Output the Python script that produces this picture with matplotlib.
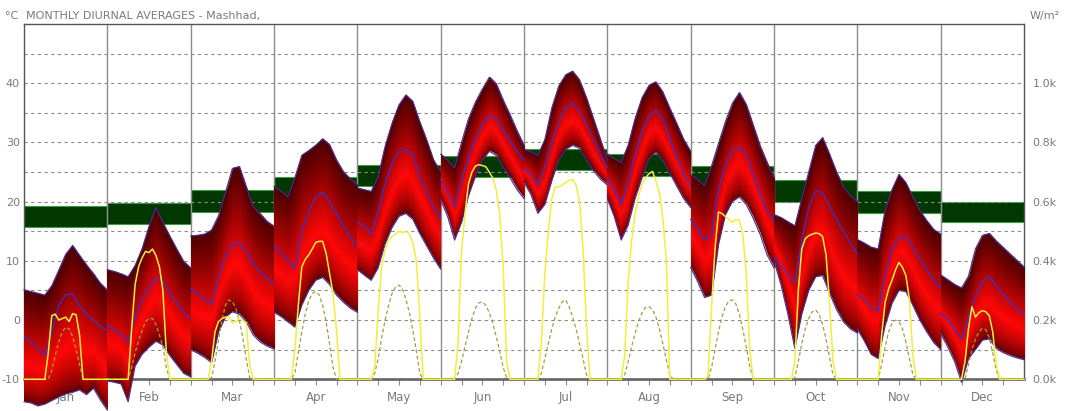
import matplotlib
matplotlib.use("Agg")
import matplotlib.pyplot as plt
import numpy as np

# ---- data ----

MONTHS = ["Jan", "Feb", "Mar", "Apr", "May", "Jun",
          "Jul", "Aug", "Sep", "Oct", "Nov", "Dec"]

# temperatures (degC) every two hours, 0..24
HOURS = [0, 2, 4, 6, 8, 10, 12, 14, 16, 18, 20, 22, 24]

T_MAX = [
    [5.1, 4.8, 4.5, 4.2, 5.8, 8.4, 11.1, 12.6, 10.9, 9.3, 7.8, 6.2, 5.0],
    [8.5, 8.2, 7.8, 7.3, 9.2, 12.0, 15.8, 19.0, 16.5, 14.2, 12.0, 9.9, 8.8],
    [14.2, 14.3, 14.5, 15.2, 17.6, 21.5, 25.6, 25.9, 22.4, 19.2, 17.9, 16.6, 15.8],
    [22.6, 21.8, 20.8, 24.0, 27.8, 28.6, 29.5, 30.6, 29.6, 27.0, 25.0, 23.8, 22.8],
    [22.3, 22.0, 21.7, 24.2, 29.3, 33.2, 36.3, 38.0, 36.9, 33.5, 30.4, 27.0, 25.0],
    [28.0, 27.0, 25.7, 30.0, 34.0, 36.8, 39.0, 41.0, 39.8, 37.0, 34.5, 31.8, 29.4],
    [28.8, 28.4, 27.8, 30.5, 35.8, 39.5, 41.4, 42.0, 40.5, 37.5, 34.0, 30.5, 27.0],
    [28.0, 27.3, 26.6, 29.5, 34.0, 37.5, 39.6, 40.2, 38.5, 35.8, 33.2, 30.5, 28.5],
    [24.5, 23.8, 22.7, 26.0, 29.8, 33.5, 36.6, 38.4, 36.3, 32.8, 29.3, 26.5, 24.0],
    [17.8, 17.3, 16.6, 15.9, 20.5, 25.0, 29.5, 30.8, 28.0, 25.0, 22.5, 21.0, 20.0],
    [13.6, 13.0, 12.3, 12.0, 18.5, 22.0, 24.6, 23.2, 20.8, 18.5, 16.8, 15.3, 14.5],
    [7.6, 6.8, 6.0, 5.4, 7.4, 12.0, 14.3, 14.6, 13.3, 12.2, 11.1, 10.0, 8.9],
]

T_MIN = [
    [-13.8, -14.0, -14.5, -14.2, -13.6, -13.0, -12.5, -12.2, -11.8, -12.6, -11.5, -13.5, -15.2],
    [-10.3, -10.5, -10.8, -13.8, -7.8, -5.8, -4.6, -3.6, -4.2, -6.0, -7.5, -9.0, -9.6],
    [-5.0, -5.6, -6.3, -7.2, -2.0, 0.5, 1.4, 1.0, -0.3, -2.5, -3.7, -4.4, -4.9],
    [1.3, 0.6, -0.3, -1.2, 2.5, 5.0, 6.7, 7.2, 6.0, 4.2, 3.0, 2.0, 1.3],
    [8.5, 7.6, 6.7, 8.8, 12.8, 15.6, 17.5, 18.0, 17.0, 14.6, 12.5, 10.4, 8.6],
    [20.3, 17.5, 13.5, 16.5, 21.0, 24.3, 27.0, 28.5, 27.8, 25.8, 24.0, 22.0, 20.5],
    [23.3, 21.2, 18.0, 19.5, 23.5, 27.0, 28.8, 29.5, 29.0, 27.0, 25.2, 23.8, 22.8],
    [20.5, 17.5, 13.5, 16.0, 20.5, 24.0, 27.3, 28.3, 27.0, 24.8, 22.6, 20.5, 19.0],
    [8.9, 6.5, 3.8, 4.2, 12.8, 17.8, 20.0, 20.8, 19.5, 17.2, 14.5, 11.0, 8.8],
    [10.0, 6.0, 1.0, -4.8, 1.0, 5.0, 7.3, 7.5, 4.5, 1.8, -0.3, -1.5, -2.2],
    [-1.5, -3.5, -5.8, -6.5, -1.0, 2.8, 5.0, 4.8, 2.5, 0.0, -2.0, -3.8, -5.0],
    [-2.3, -4.5, -7.0, -10.5, -6.5, -5.0, -3.4, -3.2, -4.8, -5.5, -6.0, -6.4, -6.7],
]

T_MEAN = [
    [-2.8, -3.7, -4.8, -5.9, -2.0, 2.5, 4.3, 4.4, 2.5, 0.9, 0.0, -1.0, -1.9],
    [-0.8, -1.6, -2.5, -3.8, 0.5, 3.5, 5.4, 7.2, 6.6, 4.5, 3.0, 1.2, 0.3],
    [5.3, 4.5, 3.5, 2.6, 7.4, 10.8, 12.8, 13.1, 11.6, 9.5, 8.2, 7.0, 6.4],
    [12.5, 11.5, 10.0, 8.7, 15.0, 18.2, 20.8, 21.6, 20.0, 18.0, 16.0, 14.0, 12.4],
    [16.6, 15.8, 14.5, 18.5, 23.0, 26.5, 28.4, 28.8, 28.0, 24.0, 21.5, 19.0, 17.2],
    [23.8, 21.5, 19.2, 23.5, 27.5, 30.5, 33.0, 34.5, 34.0, 32.0, 30.2, 28.5, 27.0],
    [25.6, 24.5, 22.8, 26.0, 30.0, 33.5, 35.8, 36.6, 35.5, 33.0, 30.5, 28.0, 25.8],
    [24.0, 22.0, 19.5, 23.5, 28.0, 31.8, 34.5, 35.4, 34.0, 30.5, 27.5, 24.5, 22.5],
    [17.0, 15.5, 13.5, 14.5, 22.0, 26.2, 28.7, 29.2, 28.0, 24.5, 21.3, 18.5, 16.8],
    [10.6, 9.2, 7.8, 6.3, 13.5, 19.0, 21.8, 21.5, 19.2, 17.0, 15.0, 13.0, 11.2],
    [4.3, 3.5, 2.2, 1.5, 7.5, 11.8, 14.0, 14.2, 12.2, 10.3, 8.5, 6.8, 5.5],
    [1.2, 0.0, -1.6, -3.2, 0.5, 4.0, 6.5, 7.4, 5.8, 4.3, 3.0, 1.9, 1.0],
]

# comfort band (degC)
COMFORT_LOW = [15.8, 16.3, 18.2, 20.6, 22.7, 24.2, 25.3, 24.3, 22.3, 20.0, 18.1, 16.5]
COMFORT_HIGH = [19.2, 19.8, 22.0, 24.1, 26.2, 27.7, 28.9, 28.1, 26.0, 23.7, 21.8, 20.0]

# solar radiation (W/m2), hourly through the day
SUN_HOURS = [0, 4, 5, 6, 7, 8, 9, 10, 11, 12, 13, 14, 15, 16, 17, 18, 19, 20, 24]

DIRECT = [
    [0, 0, 0, 0, 90, 215, 220, 200, 205, 210, 195, 222, 218, 150, 0, 0, 0, 0, 0],
    [0, 0, 0, 0, 170, 320, 380, 410, 432, 428, 440, 418, 380, 300, 90, 0, 0, 0, 0],
    [0, 0, 0, 60, 160, 195, 205, 210, 212, 190, 195, 205, 200, 190, 50, 0, 0, 0, 0],
    [0, 0, 0, 100, 250, 380, 405, 420, 440, 462, 466, 466, 426, 358, 290, 166, 0, 0, 0],
    [0, 0, 40, 230, 380, 440, 470, 482, 490, 500, 495, 500, 490, 460, 400, 210, 0, 0, 0],
    [0, 0, 120, 430, 560, 660, 700, 720, 725, 722, 718, 700, 680, 640, 560, 380, 60, 0, 0],
    [0, 0, 120, 360, 500, 610, 650, 650, 655, 665, 672, 675, 655, 600, 440, 180, 0, 0, 0],
    [0, 0, 80, 330, 470, 560, 620, 660, 680, 695, 702, 670, 630, 540, 400, 0, 0, 0, 0],
    [0, 0, 10, 240, 440, 565, 560, 550, 540, 530, 540, 538, 490, 360, 100, 0, 0, 0, 0],
    [0, 0, 0, 60, 300, 440, 475, 485, 490, 494, 492, 482, 420, 260, 60, 0, 0, 0, 0],
    [0, 0, 0, 0, 150, 260, 305, 335, 370, 395, 378, 350, 270, 80, 0, 0, 0, 0, 0],
    [0, 0, 0, 0, 60, 170, 245, 210, 225, 232, 228, 215, 160, 50, 0, 0, 0, 0, 0],
]

DIFFUSE = [
    [0, 0, 0, 0, 0, 30, 80, 125, 160, 176, 170, 145, 100, 50, 0, 0, 0, 0, 0],
    [0, 0, 0, 0, 40, 90, 130, 165, 195, 206, 205, 185, 150, 110, 40, 0, 0, 0, 0],
    [0, 0, 0, 5, 60, 130, 200, 250, 268, 262, 240, 200, 140, 70, 5, 0, 0, 0, 0],
    [0, 0, 0, 20, 90, 160, 220, 265, 290, 296, 285, 250, 195, 120, 40, 0, 0, 0, 0],
    [0, 0, 20, 70, 140, 200, 250, 290, 312, 318, 305, 270, 225, 165, 95, 20, 0, 0, 0],
    [0, 0, 20, 60, 110, 160, 205, 240, 258, 262, 250, 225, 190, 145, 95, 40, 5, 0, 0],
    [0, 0, 20, 70, 120, 170, 210, 240, 262, 268, 245, 210, 170, 120, 70, 15, 0, 0, 0],
    [0, 0, 15, 60, 110, 155, 195, 225, 243, 246, 235, 210, 170, 120, 65, 15, 0, 0, 0],
    [0, 0, 0, 40, 100, 160, 210, 245, 265, 268, 255, 220, 170, 110, 45, 0, 0, 0, 0],
    [0, 0, 0, 5, 60, 120, 170, 205, 228, 234, 220, 185, 135, 75, 15, 0, 0, 0, 0],
    [0, 0, 0, 0, 50, 110, 160, 190, 200, 195, 170, 125, 70, 15, 0, 0, 0, 0, 0],
    [0, 0, 0, 0, 0, 50, 100, 135, 160, 172, 168, 140, 90, 30, 0, 0, 0, 0, 0],
]

TEXT_GREY = "#7a7a7a"
FONT_SIZE = 8
plt.rcParams["font.family"] = ["DejaVu Sans"]
plt.rcParams["axes.unicode_minus"] = False


def band_rgba(f):
    """dark maroon at the edges of the band, bright red a third of the way up"""
    peak = 0.33
    inside = (f >= 0) & (f <= 1)
    fc = np.clip(f, 0, 1)
    k = np.where(fc < peak, (fc / peak) ** 0.6, ((1 - fc) / (1 - peak)) ** 1.1)
    rgba = np.zeros(f.shape + (4,))
    rgba[..., 0] = 0.30 + 0.70 * k
    rgba[..., 1] = 0.03 * k
    rgba[..., 2] = 0.03 * k
    rgba[..., 3] = inside.astype(float)
    return rgba


fig = plt.figure(figsize=(10.69, 4.11), dpi=100)
ax = fig.add_axes([24 / 1069, 31.7 / 411, 1000 / 1069, 355.3 / 411])

# comfort bands
for m in range(12):
    ax.bar(m + 0.5, COMFORT_HIGH[m] - COMFORT_LOW[m], bottom=COMFORT_LOW[m], width=1.0,
           color="#013801", edgecolor="#3f9a3f", linewidth=0.8, zorder=1)

# grid
for y in range(-5, 50, 5):
    ax.axhline(y, color="#8a8a8a", lw=0.8, ls=(0, (3, 3)), zorder=2)
for m in range(1, 12):
    ax.axvline(m, color="#8c8c8c", lw=1.0, zorder=2)

# temperature bands: gradient image per month, running below the frame
img_x = np.linspace(0, 1, 240)
img_y = np.linspace(-20, 50, 900)
for m in range(12):
    lo_px = np.interp(img_x * 24, HOURS, T_MIN[m])
    hi_px = np.interp(img_x * 24, HOURS, T_MAX[m])
    f = (img_y[:, None] - lo_px[None, :]) / (hi_px - lo_px)[None, :]
    im = ax.imshow(band_rgba(f), extent=(m, m + 1, -20, 50), origin="lower",
                   aspect="auto", interpolation="bilinear", zorder=3)
    im.set_clip_on(False)

    x = m + np.array(HOURS) / 24.0
    ax.plot(x, T_MAX[m], color="#4a2a9a", lw=0.8, zorder=4, clip_on=False)
    ax.plot(x, T_MIN[m], color="#4a2a9a", lw=0.8, zorder=4, clip_on=False)
    ax.plot(x, T_MEAN[m], color="#3434d0", lw=0.9, zorder=4)

ax.set_xlim(0, 12)
ax.set_ylim(-10, 50)

# month labels, sitting under the bands
for m, name in enumerate(MONTHS):
    ax.text(m + 0.5, -13.0, name, ha="center", va="center", fontsize=FONT_SIZE + 0.5,
            color=TEXT_GREY, zorder=1, clip_on=False)

ax.set_xticks([m + h / 24.0 for m in range(12) for h in (0, 6, 12, 18)])
ax.set_xticklabels([])
ax.tick_params(axis="x", direction="out", length=4, color="#8a8a8a")
ax.set_yticks(range(-10, 41, 10))
ax.tick_params(axis="y", length=0, pad=3, labelsize=FONT_SIZE, labelcolor=TEXT_GREY)

for side in ("top", "left", "right"):
    ax.spines[side].set_color("#555555")
    ax.spines[side].set_linewidth(1.0)
ax.spines["bottom"].set_color("#6a6a6a")
ax.spines["bottom"].set_linewidth(2.0)

# solar radiation on the right-hand scale
ax2 = ax.twinx()
ax2.set_ylim(0, 1200)
for m in range(12):
    xs = m + np.array(SUN_HOURS) / 24.0
    ax2.plot(xs, DIFFUSE[m], color="#a0a040", lw=0.9, ls=(0, (3, 2)), zorder=5, clip_on=False)
    ax2.plot(xs, DIRECT[m], color="#f2ee3a", lw=1.1, zorder=6, clip_on=False)
ax2.set_yticks(range(0, 1001, 200))
ax2.set_yticklabels([f"{v / 1000:.1f}k" for v in range(0, 1001, 200)])
ax2.tick_params(axis="y", length=0, pad=6, labelsize=FONT_SIZE, labelcolor=TEXT_GREY)
for s in ax2.spines.values():
    s.set_visible(False)

fig.text(5 / 1069, 1 - 19 / 411, "°C", fontsize=FONT_SIZE, color=TEXT_GREY, va="baseline")
fig.text(26 / 1069, 1 - 19 / 411, "MONTHLY DIURNAL AVERAGES - Mashhad,", fontsize=FONT_SIZE,
         color=TEXT_GREY, va="baseline")
fig.text(1030 / 1069, 1 - 19 / 411, "W/m²", fontsize=FONT_SIZE, color=TEXT_GREY, va="baseline")

fig.savefig("out.png", dpi=100)
